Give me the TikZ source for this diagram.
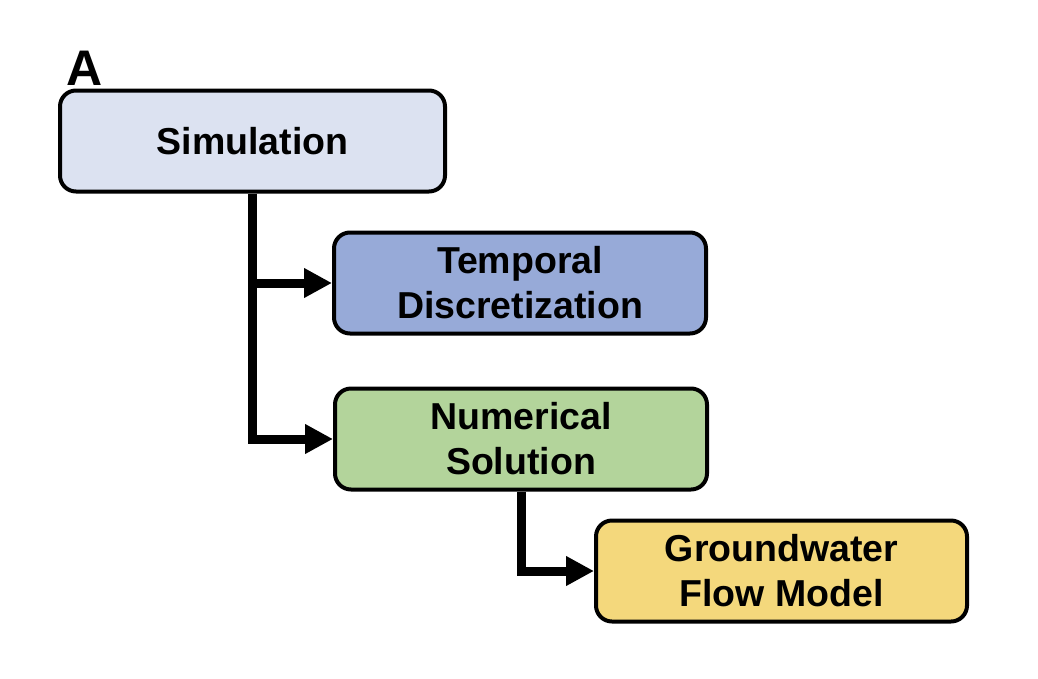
\documentclass[tikz,border=0pt]{standalone}
\usepackage{fontspec}
\setmainfont{Liberation Sans}
\usetikzlibrary{arrows.meta}
\definecolor{simfill}{HTML}{DCE2F1}
\definecolor{tempfill}{HTML}{97AAD8}
\definecolor{numfill}{HTML}{B3D49B}
\definecolor{gwfill}{HTML}{F4D87C}
\tikzset{
  box/.style={draw=black, line width=4pt, rounded corners=16pt, minimum height=101pt,
    align=center, inner sep=0pt, font=\fontsize{37.5}{45}\selectfont\bfseries},
  conn/.style={draw=black, line width=9pt, -{Triangle[length=28pt,width=28pt]}}
}
\begin{document}
\begin{tikzpicture}[x=1pt,y=-1pt]
\useasboundingbox (0,0) rectangle (1038,678);
\node[box, fill=simfill, minimum width=385pt] (sim) at (252.5,141) {Simulation};
\node[box, fill=tempfill, minimum width=372pt] (temp) at (520,283) {Temporal\\Discretization};
\node[box, fill=numfill, minimum width=372pt] (num) at (521,439) {Numerical\\Solution};
\node[box, fill=gwfill, minimum width=371pt] (gw) at (781.5,571) {Groundwater\\Flow Model};
\node[font=\fontsize{50}{54}\selectfont\bfseries, inner sep=0pt] (lab) at (85,68) {A};
\draw[conn] (sim.south) |- (temp.west);
\draw[conn] (sim.south) |- (num.west);
\draw[conn] (num.south) |- (gw.west);
\end{tikzpicture}
\end{document}
